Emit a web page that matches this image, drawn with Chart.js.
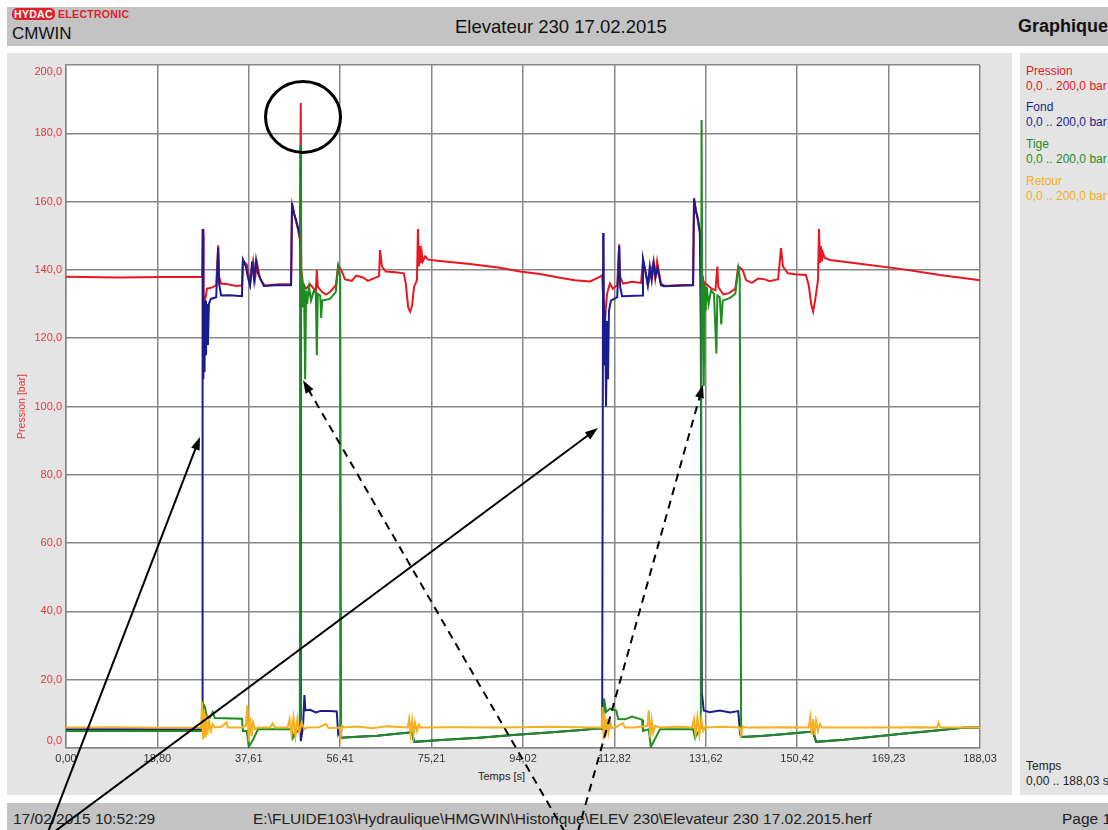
<!DOCTYPE html>
<html>
<head>
<meta charset="utf-8">
<title>Elevateur 230 17.02.2015</title>
<script src="https://cdn.jsdelivr.net/npm/chart.js@4/dist/chart.umd.min.js"></script>
<style>
  body { margin: 0; width: 1108px; height: 830px; position: relative; overflow: hidden; background: #fff;
         font-family: "Liberation Sans", Arial, sans-serif; }
  .bar { position: absolute; left: 7px; width: 1101px; background: #c3c3c3; }
  .panel { position: absolute; top: 53px; height: 742px; background: #e4e4e4; }
  .txt { position: absolute; white-space: nowrap; }
  .leg { position: absolute; left: 1026px; font-size: 12px; line-height: 15px; white-space: nowrap; }
  .foot { position: absolute; top: 810px; font-size: 15.5px; color: #222; white-space: nowrap; }
  #graph { position: absolute; left: 0; top: 0; }
</style>
</head>
<body>
<div class="bar" style="top:7px;height:39px;"></div>
<div class="txt" style="left:12px;top:8px;font-size:10.5px;font-weight:bold;color:#e0202a;letter-spacing:0.3px;">
  <span style="background:#e0202a;color:#fff;border-radius:5px;padding:0 2px;">HYDAC</span> ELECTRONIC</div>
<div class="txt" style="left:12px;top:24px;font-size:17px;color:#111;">CMWIN</div>
<div class="txt" style="left:455px;top:16px;font-size:18.5px;color:#111;">Elevateur 230 17.02.2015</div>
<div class="txt" style="left:1018px;top:16px;font-size:18px;font-weight:bold;color:#111;">Graphique</div>

<div class="panel" style="left:7px;width:1005px;"></div>
<div class="panel" style="left:1020px;width:88px;"></div>

<div class="leg" style="top:64px;color:#e8171f;">Pression<br>0,0 .. 200,0 bar</div>
<div class="leg" style="top:100px;color:#1c1c8c;">Fond<br>0,0 .. 200,0 bar</div>
<div class="leg" style="top:137px;color:#1e8c1e;">Tige<br>0,0 .. 200,0 bar</div>
<div class="leg" style="top:174px;color:#f4b022;">Retour<br>0,0 .. 200,0 bar</div>
<div class="leg" style="top:759px;color:#222;">Temps<br>0,00 .. 188,03 s</div>

<div class="txt" style="left:478px;top:770px;font-size:11px;color:#222;">Temps [s]</div>

<div class="bar" style="top:803px;height:27px;"></div>
<div class="foot" style="left:13px;">17/02/2015 10:52:29</div>
<div class="foot" style="left:253px;">E:\FLUIDE103\Hydraulique\HMGWIN\Historique\ELEV 230\Elevateur 230 17.02.2015.herf</div>
<div class="foot" style="left:1062px;">Page 1</div>

<canvas id="graph" width="1108" height="830"></canvas>

<script>
// Axis ticks
const xTickValues = [0, 18.80, 37.61, 56.41, 75.21, 94.02, 112.82, 131.62, 150.42, 169.23, 188.03];
const xTickLabels = ['0,00', '18,80', '37,61', '56,41', '75,21', '94,02', '112,82', '131,62', '150,42', '169,23', '188,03'];
const yTickValues = [0, 20, 40, 60, 80, 100, 120, 140, 160, 180, 200];
const yTickLabels = ['0,0', '20,0', '40,0', '60,0', '80,0', '100,0', '120,0', '140,0', '160,0', '180,0', '200,0'];

// Pression (red) - time [s] / value [bar]
const pressionT = [0, 11, 20, 28.0, 28.2, 28.3, 28.6, 29.0, 30.0, 30.9, 31.3, 31.5, 31.9, 33.3, 35.0, 36.2,
  36.4, 37.2, 37.9, 38.5, 38.9, 39.3, 39.9, 40.9, 44.0, 46.3, 46.5, 47.1, 47.7, 48.1, 48.3, 48.4, 48.75,
  49.4, 50.2, 51.4, 51.6, 51.8, 52.7, 53.5, 54.3, 55.5, 56.0, 56.6, 57.4, 58.8, 59.7, 61.1, 62.1, 63.8,
  64.4, 64.6, 65.0, 65.8, 67.7, 69.5, 69.9, 70.4, 70.8, 71.2, 71.6, 72.2, 72.4, 72.6, 72.8, 73.0, 73.2,
  73.4, 73.9, 74.5, 76.9, 83.1, 89.3, 93.4, 97.5, 101.6, 104.7, 107.8, 109.9, 110.3, 110.5, 110.9, 111.3,
  111.9, 112.5, 113.4, 113.8, 114.0, 114.6, 116.5, 118.3, 118.7, 119.7, 120.8, 121.2, 121.6, 122.4, 123.2,
  126.3, 129.0, 129.2, 129.8, 130.4, 130.6, 130.8, 131.2, 132.0, 132.8, 133.6, 134.0, 134.2, 135.2, 136.4,
  137.7, 138.3, 139.2, 139.9, 141.1, 142.4, 143.6, 144.8, 146.5, 147.1, 147.5, 148.5, 150.0, 152.2, 152.8,
  153.3, 153.7, 154.1, 154.7, 154.9, 155.1, 155.3, 155.5, 155.7, 156.1, 157.2, 163.3, 171.6, 179.8, 188.03];
const pressionV = [138.0, 137.8, 137.9, 138.0, 152.0, 128.0, 131.0, 134.5, 134.8, 135.5, 147.2, 138.0, 136.0, 135.8, 135.3, 135.5,
  142.8, 141.5, 136.0, 142.5, 137.5, 142.0, 137.5, 135.4, 135.8, 135.8, 159.0, 155.5, 152.0, 149.0, 188.9, 140.0, 136.0,
  134.5, 135.8, 133.8, 140.0, 135.0, 133.5, 132.8, 133.5, 135.5, 141.4, 140.0, 137.2, 136.8, 138.3, 137.8, 136.8, 137.8,
  138.2, 145.8, 141.0, 139.5, 139.3, 139.0, 136.0, 129.0, 127.8, 129.5, 135.0, 137.0, 152.0, 141.0, 147.0, 142.0, 145.0,
  142.5, 144.0, 143.0, 142.6, 141.7, 140.6, 139.5, 138.8, 137.7, 137.0, 136.6, 138.0, 138.5, 132.0, 126.0, 133.0,
  136.0, 134.5, 135.5, 147.5, 138.0, 136.0, 136.5, 136.2, 143.0, 135.5, 142.0, 137.5, 142.5, 136.0, 135.3,
  135.6, 135.6, 160.5, 156.0, 151.0, 145.0, 139.0, 136.5, 135.5, 134.5, 134.0, 141.0, 135.0, 132.8, 133.2,
  134.5, 141.0, 140.0, 137.0, 136.2, 137.5, 137.3, 136.7, 137.3, 146.4, 141.0, 139.0, 138.7, 138.5, 135.5,
  130.0, 127.8, 131.0, 137.0, 152.0, 142.0, 147.0, 142.5, 145.0, 143.5, 142.9, 141.8, 140.3, 138.5, 137.0];

// Fond (blue)
const fondT = [0, 28.0, 28.1, 28.2, 28.25, 28.4, 28.5, 28.6, 28.8, 29.0, 29.2, 29.4, 29.8, 30.9, 31.3, 31.5,
  31.9, 33.7, 36.2, 36.4, 37.0, 37.4, 37.85, 38.3, 38.7, 39.1, 39.5, 40.1, 40.7, 43.0, 46.3, 46.5, 46.9,
  47.3, 47.7, 48.1, 48.2, 48.3, 48.75, 49.05, 49.25, 50.2, 51.4, 52.3, 54.3, 55.7, 56.0, 56.4, 56.6, 60, 64,
  68, 71.2, 71.6, 78, 85, 92, 100, 106, 109.9, 110.3, 110.5, 110.6, 110.7, 110.9, 111.1, 111.3, 111.5,
  111.7, 112.1, 113.4, 113.8, 114.0, 114.4, 118.5, 118.7, 119.3, 119.7, 120.1, 120.5, 120.9, 121.3, 121.7,
  122.4, 123.0, 129.0, 129.2, 129.6, 130.0, 130.4, 130.6, 130.8, 131.2, 132.4, 134.5, 136.6, 138.3, 138.7,
  139.1, 143, 148, 153.7, 154.3, 160, 166, 172, 178, 184.5, 188.03];
const fondV = [5.5, 5.5, 152.0, 150.0, 108.0, 126.0, 110.0, 131.0, 115.0, 130.0, 118.0, 130.0, 131.5, 132.0, 146.5, 136.0,
  132.5, 132.6, 132.3, 143.0, 141.0, 138.0, 135.5, 142.5, 137.0, 142.8, 139.0, 137.0, 135.3, 135.5, 135.5, 159.6, 156.5,
  154.8, 152.5, 150.0, 145.0, 2.0, 6.0, 15.5, 11.0, 11.2, 10.4, 10.8, 10.8, 10.7, 4.0, 5.0, 3.0, 3.3, 3.6,
  4.2, 4.6, 1.8, 2.4, 3.0, 3.8, 4.6, 5.3, 5.8, 5.5, 150.8, 148.0, 112.0, 128.0, 100.0, 125.0, 108.0,
  128.0, 131.0, 132.0, 147.0, 135.0, 132.3, 132.5, 143.2, 139.0, 135.5, 141.0, 137.0, 142.3, 138.0, 140.5,
  135.5, 135.2, 135.5, 161.0, 157.0, 155.0, 151.0, 120.0, 16.2, 11.0, 10.5, 11.0, 10.4, 10.8, 4.0,
  3.2, 3.5, 4.1, 4.8, 1.8, 2.4, 3.3, 4.2, 5.0, 5.9, 6.0];

// Tige (green)
const tigeT = [0, 28.0, 28.2, 28.6, 29.0, 29.6, 30.2, 30.6, 36.2, 36.4, 37.2, 37.6, 38.5, 39.5, 46.5, 46.7,
  47.3, 48.1, 48.25, 48.4, 48.5, 48.75, 48.95, 49.2, 49.4, 49.6, 50.0, 50.4, 51.0, 51.4, 51.6, 51.8, 52.3,
  52.5, 52.7, 54.3, 55.5, 56.0, 56.4, 56.6, 60, 64, 68, 71.2, 71.6, 78, 85, 92, 100, 106, 109.9, 110.5,
  110.7, 111.1, 111.9, 113.2, 113.6, 115.0, 116.4, 118.5, 118.7, 119.9, 120.3, 121.1, 122.2, 129.0, 129.4,
  130.2, 130.6, 130.75, 130.9, 131.0, 131.2, 131.4, 131.6, 131.8, 132.2, 132.7, 133.3, 133.8, 134.0, 134.5,
  134.8, 135.1, 136.6, 137.7, 138.3, 138.6, 138.9, 143, 148, 153.7, 154.3, 160, 166, 172, 178, 184.5, 188.03];
const tigeV = [5.0, 5.0, 13.0, 12.0, 9.0, 8.8, 10.5, 8.8, 8.6, 5.0, 5.0, 0.3, 2.5, 5.5, 5.5, 3.0,
  4.5, 5.5, 176.6, 131.0, 138.0, 129.0, 136.0, 108.0, 134.0, 130.0, 135.0, 131.0, 134.0, 133.0, 115.0, 133.0, 132.5,
  125.9, 131.0, 131.5, 133.5, 141.0, 138.0, 3.0, 3.3, 3.6, 4.2, 4.6, 1.8, 2.4, 3.0, 3.8, 4.6, 5.3, 5.8, 5.8,
  14.5, 10.5, 11.5, 11.0, 8.5, 8.4, 9.2, 8.3, 5.0, 5.5, 0.3, 2.5, 5.5, 5.5, 3.0,
  5.0, 5.8, 183.9, 131.0, 138.0, 106.0, 136.0, 128.0, 135.0, 130.0, 134.0, 133.0, 115.5, 132.5, 132.0,
  124.0, 131.0, 131.8, 133.0, 140.5, 138.0, 3.2, 3.5, 4.1, 4.8, 1.8, 2.4, 3.3, 4.2, 5.0, 5.9, 6.0];

// Retour (yellow)
const retourT = [0, 10, 20, 27.8, 28.0, 28.2, 28.4, 28.6, 28.8, 29.1, 29.4, 29.8, 30.2, 30.6, 32, 33, 33.3,
  36, 37.0, 37.3, 37.6, 37.9, 38.2, 38.5, 38.9, 39.5, 42, 42.5, 43, 45.6, 46.0, 46.4, 46.8, 47.2, 47.6, 48,
  48.5, 49, 49.6, 52, 53.5, 54, 56.3, 56.5, 56.8, 57.2, 60, 63, 66, 70.3, 70.6, 70.9, 71.2, 71.5, 71.8,
  72.2, 72.6, 73, 80, 90, 100, 108, 110.2, 110.4, 110.6, 110.8, 111.0, 111.3, 111.6, 112, 112.3, 113,
  114.5, 115, 117, 119.6, 119.9, 120.2, 120.5, 120.8, 121.2, 122, 126, 128.8, 129.2, 129.5, 129.9, 130.3,
  130.7, 131.1, 131.6, 132, 135, 138.6, 138.9, 139.2, 140, 147, 152.8, 153.1, 153.4, 153.7, 154, 154.3,
  154.7, 155.1, 155.6, 165, 176, 179.2, 179.5, 179.9, 188.03];
const retourV = [6.0, 6.1, 5.9, 6.0, 13.5, 2.5, 11.0, 3.5, 9.5, 4.0, 8.0, 5.0, 7.0, 6.0, 6.2, 7.5, 6.0,
  6.0, 6.5, 12.5, 2.0, 9.0, 3.5, 7.5, 5.5, 6.0, 6.1, 7.2, 6.0, 6.0, 8.5, 4.0, 9.0, 3.5, 8.5, 4.5,
  7.5, 5.5, 6.0, 6.1, 7.0, 5.8, 6.0, 3.2, 6.5, 6.0, 6.3, 5.8, 6.4, 6.0, 8.5, 4.0, 8.0, 3.8, 7.5,
  5.0, 6.8, 6.0, 6.1, 6.0, 6.2, 6.0, 6.0, 12.0, 2.5, 10.0, 3.5, 8.5, 4.5, 7.5, 5.8, 6.0,
  7.3, 6.0, 6.0, 6.5, 11.0, 3.0, 8.0, 4.5, 6.5, 6.0, 6.2, 6.0, 8.5, 4.0, 9.0, 3.8,
  8.5, 5.0, 6.5, 6.0, 6.2, 6.0, 3.8, 6.3, 6.0, 6.1, 6.0, 9.0, 4.0, 8.5, 3.8, 8.0,
  5.0, 7.0, 6.0, 6.0, 6.1, 6.0, 7.4, 6.0, 6.0];

// Annotations: [tailT, tailV, tipT, tipV]
const solidArrows = [[-3.70, -24.6, 27.57, 91.1], [-2.47, -24.6, 109.44, 93.7]];
const dashedArrows = [[102.6, -24.6, 48.76, 107.7], [105.3, -24.6, 131.04, 106.3]];
const circleMark = [48.76, 184.8];

function toPoints(times, values) {
    return times.map((t, i) => ({ x: t, y: values[i] }));
}

function line(label, times, values, color, order) {
    return {
        label: label,
        data: toPoints(times, values),
        borderColor: color,
        backgroundColor: color,
        borderWidth: 2,
        pointRadius: 0,
        tension: 0,
        fill: false,
        order: order
    };
}

// White plot area behind the grid
const plotBackground = {
    id: 'plotBackground',
    beforeDraw(chart) {
        const a = chart.chartArea;
        chart.ctx.save();
        chart.ctx.fillStyle = '#ffffff';
        chart.ctx.fillRect(a.left, a.top, a.right - a.left, a.bottom - a.top);
        chart.ctx.restore();
    }
};

function drawArrow(ctx, x1, y1, x2, y2) {
    const ang = Math.atan2(y2 - y1, x2 - x1);
    ctx.beginPath();
    ctx.moveTo(x1, y1);
    ctx.lineTo(x2 - 8 * Math.cos(ang), y2 - 8 * Math.sin(ang));
    ctx.stroke();
    ctx.save();
    ctx.setLineDash([]);
    ctx.beginPath();
    ctx.moveTo(x2, y2);
    ctx.lineTo(x2 - 13 * Math.cos(ang) + 4.5 * Math.sin(ang), y2 - 13 * Math.sin(ang) - 4.5 * Math.cos(ang));
    ctx.lineTo(x2 - 13 * Math.cos(ang) - 4.5 * Math.sin(ang), y2 - 13 * Math.sin(ang) + 4.5 * Math.cos(ang));
    ctx.closePath();
    ctx.fill();
    ctx.restore();
}

// Hand drawn marks on top of the print
const annotations = {
    id: 'annotations',
    afterDraw(chart) {
        const ctx = chart.ctx;
        const x = chart.scales.x, y = chart.scales.y;
        ctx.save();
        ctx.strokeStyle = '#000';
        ctx.fillStyle = '#000';
        ctx.lineWidth = 2;
        solidArrows.forEach(a => drawArrow(ctx, x.getPixelForValue(a[0]), y.getPixelForValue(a[1]),
            x.getPixelForValue(a[2]), y.getPixelForValue(a[3])));
        ctx.setLineDash([8, 6]);
        dashedArrows.forEach(a => drawArrow(ctx, x.getPixelForValue(a[0]), y.getPixelForValue(a[1]),
            x.getPixelForValue(a[2]), y.getPixelForValue(a[3])));
        ctx.setLineDash([]);
        ctx.lineWidth = 3;
        ctx.beginPath();
        ctx.ellipse(x.getPixelForValue(circleMark[0]), y.getPixelForValue(circleMark[1]), 37.5, 35.5, 0, 0, Math.PI * 2);
        ctx.stroke();
        ctx.restore();
    }
};

const gridColor = '#878787';

new Chart(document.getElementById('graph'), {
    type: 'line',
    data: {
        datasets: [
            line('Retour', retourT, retourV, '#f4b022', 0),
            line('Tige', tigeT, tigeV, '#1e8c1e', 1),
            line('Fond', fondT, fondV, '#1c1c8c', 2),
            line('Pression', pressionT, pressionV, '#e8171f', 3)
        ]
    },
    options: {
        responsive: false,
        devicePixelRatio: 1,
        animation: false,
        layout: { padding: { left: 10, right: 128, top: 65, bottom: 62 } },
        plugins: { legend: { display: false }, tooltip: { enabled: false } },
        scales: {
            x: {
                type: 'linear',
                min: 0,
                max: 188.03,
                afterBuildTicks: s => { s.ticks = xTickValues.map(v => ({ value: v })); },
                afterFit: s => { s.height = 20; },
                ticks: {
                    autoSkip: false,
                    maxRotation: 0,
                    padding: 4,
                    color: '#333',
                    font: { family: 'Liberation Sans', size: 11 },
                    callback: (v, i) => xTickLabels[i]
                },
                grid: { color: gridColor, lineWidth: 1.5, drawTicks: false },
                border: { color: gridColor, width: 1.5 }
            },
            y: {
                min: 0,
                max: 200,
                afterBuildTicks: s => { s.ticks = yTickValues.map(v => ({ value: v })); },
                afterFit: s => { s.width = 56; },
                ticks: {
                    padding: 4,
                    color: '#e8343c',
                    font: { family: 'Liberation Sans', size: 11 },
                    callback: (v, i) => {
                        if (i === 0) return [yTickLabels[i], ''];
                        if (i === yTickLabels.length - 1) return ['', yTickLabels[i]];
                        return yTickLabels[i];
                    }
                },
                title: {
                    display: true,
                    text: 'Pression [bar]',
                    color: '#e8343c',
                    font: { family: 'Liberation Sans', size: 10.5 },
                    padding: { top: 6, bottom: 0 }
                },
                grid: { color: gridColor, lineWidth: 1.5, drawTicks: false },
                border: { color: gridColor, width: 1.5 }
            }
        }
    },
    plugins: [plotBackground, annotations]
});
</script>
</body>
</html>
